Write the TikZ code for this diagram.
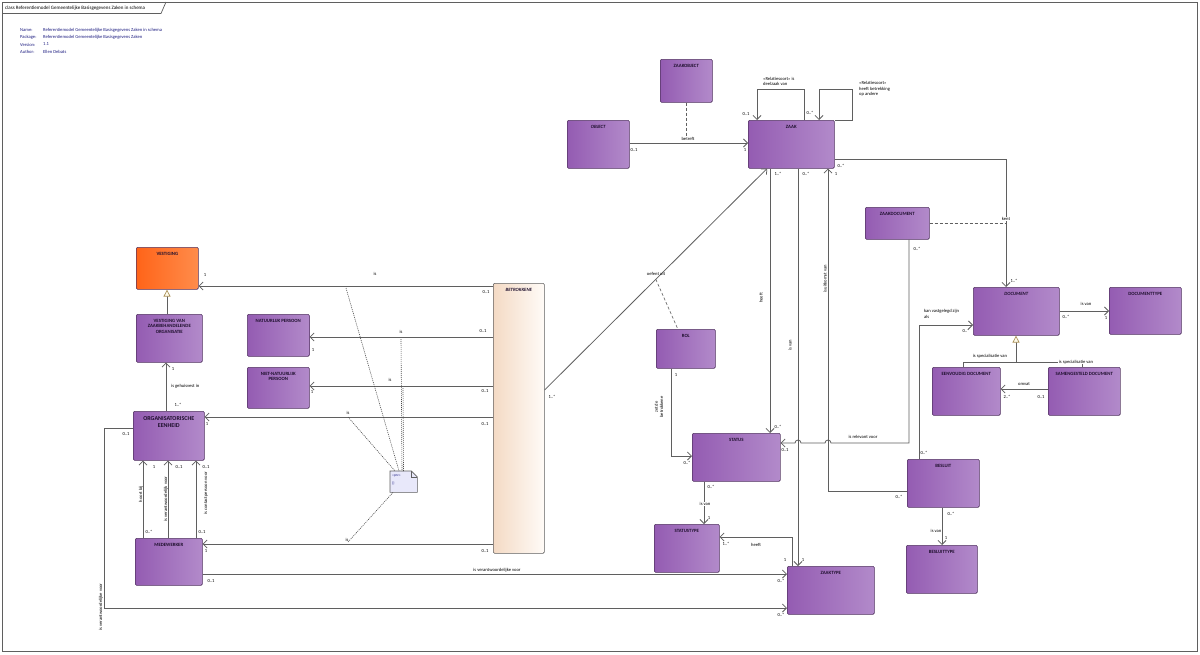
\documentclass[tikz,border=0pt]{standalone}
\usepackage{fontspec}
\setmainfont{Carlito}
\usetikzlibrary{arrows.meta,calc}
\definecolor{purpL}{RGB}{148,92,178}
\definecolor{purpR}{RGB}{178,138,202}
\definecolor{boxborder}{RGB}{80,50,95}
\definecolor{orL}{RGB}{255,100,25}
\definecolor{orR}{RGB}{255,140,75}
\definecolor{peachL}{RGB}{244,218,196}
\definecolor{peachR}{RGB}{255,251,247}
\definecolor{linec}{RGB}{95,95,95}
\definecolor{titlec}{RGB}{30,15,45}
\definecolor{infoc}{RGB}{30,30,130}
\definecolor{notefill}{RGB}{232,232,250}
\definecolor{tanc}{RGB}{170,145,90}
\definecolor{creamc}{RGB}{255,252,235}
\tikzset{
  every node/.style={inner sep=0pt},
  umlbox/.style={draw=boxborder, line width=0.6pt, rounded corners=1.2pt, left color=purpL, right color=purpR, anchor=north west},
  orbox/.style={umlbox, left color=orL, right color=orR},
  betrbox/.style={umlbox, left color=peachL, right color=peachR, draw=linec},
  boxtitle/.style={anchor=north, yshift=-5pt, align=center, text=titlec, font=\fontsize{4.8}{5.6}\selectfont\bfseries},
  bigtitle/.style={boxtitle, font=\fontsize{6}{7}\selectfont\bfseries},
  ittitle/.style={boxtitle, font=\fontsize{4.8}{5.6}\selectfont\bfseries\itshape},
  assoc/.style={draw=linec, line width=0.8pt, -{Straight Barb[length=4pt,width=8pt,line width=0.75pt]}},
  plain/.style={draw=linec, line width=0.8pt},
  gen/.style={draw=linec, line width=0.8pt, -{Triangle[open,length=7pt,width=7pt,color=tanc,fill=creamc,line width=0.7pt]}},
  dashc/.style={draw=linec, line width=0.6pt, dash pattern=on 3pt off 2pt},
  dotc/.style={draw=linec!80!black, line width=0.6pt, dash pattern=on 1pt off 1pt},
  lbl/.style={font=\fontsize{4.6}{5.3}\selectfont, text=black},
  lblw/.style={lbl, fill=white, inner sep=0.5pt},
  rlbl/.style={lbl, rotate=90, fill=white, inner sep=0.5pt},
  infotxt/.style={font=\fontsize{4.6}{5.4}\selectfont, text=infoc, anchor=west},
}
\newcommand{\mkbox}[7]{%
  \node[#1, minimum width={(#5-#3)*1pt}, minimum height={(#6-#4)*1pt}] (#2) at (#3,#4) {};%
}
\begin{document}
\begin{tikzpicture}[x=1pt,y=-1pt]
\useasboundingbox (0,0) rectangle (1200,654);
\fill[white] (0,0) rectangle (1200,654);
% frame
\draw[linec, line width=0.7pt] (2,2) rectangle (1197,651);
\draw[linec, line width=0.7pt] (2,13.5) -- (161,13.5) -- (166,2);
\node[font=\fontsize{5}{6}\selectfont, anchor=west] (hdr) at (5,8) {class Referentiemodel Gemeentelijke Basisgegevens Zaken in schema};
\node[infotxt] (in1) at (20,30.5) {Name:};
\node[infotxt] (in2) at (20,37.5) {Package:};
\node[infotxt] (in3) at (20,44.5) {Version:};
\node[infotxt] (in4) at (20,51.5) {Author:};
\node[infotxt] (iv1) at (43,30.5) {Referentiemodel Gemeentelijke Basisgegevens Zaken in schema};
\node[infotxt] (iv2) at (43,37.5) {Referentiemodel Gemeentelijke Basisgegevens Zaken};
\node[infotxt] (iv3) at (43,44.5) {1.1};
\node[infotxt] (iv4) at (43,51.5) {Ellen Debats};

% boxes
\mkbox{orbox}{vest}{136}{247}{198}{289}{}
\mkbox{umlbox}{vvzo}{136}{314}{202}{362}{}
\mkbox{umlbox}{np}{247}{314}{309}{356}{}
\mkbox{umlbox}{nnp}{247}{367}{309}{408}{}
\mkbox{umlbox}{oe}{133}{411}{204}{460}{}
\mkbox{umlbox}{mdw}{135}{538}{202}{585}{}
\mkbox{betrbox}{betr}{493}{283}{544}{553}{}
\mkbox{umlbox}{zob}{660}{59}{712}{102}{}
\mkbox{umlbox}{obj}{567}{120}{629}{168}{}
\mkbox{umlbox}{zaak}{748}{120}{834}{168}{}
\mkbox{umlbox}{zdoc}{865}{207}{929}{239}{}
\mkbox{umlbox}{doc}{973}{287}{1059}{335}{}
\mkbox{umlbox}{doct}{1109}{287}{1181}{334}{}
\mkbox{umlbox}{evd}{932}{367}{1000}{415}{}
\mkbox{umlbox}{smd}{1048}{367}{1120}{415}{}
\mkbox{umlbox}{rol}{656}{329}{715}{368}{}
\mkbox{umlbox}{stat}{692}{433}{780}{481}{}
\mkbox{umlbox}{stt}{654}{524}{719}{572}{}
\mkbox{umlbox}{zt}{787}{566}{874}{614}{}
\mkbox{umlbox}{bes}{907}{459}{979}{507}{}
\mkbox{umlbox}{best}{906}{545}{977}{593}{}

\node[boxtitle] (t-vest) at (vest.north) {VESTIGING};
\node[boxtitle] (t-vvzo) at (vvzo.north) {VESTIGING VAN\\ZAAKBEHANDELENDE\\ORGANISATIE};
\node[boxtitle] (t-np) at (np.north) {NATUURLIJK PERSOON};
\node[boxtitle] (t-nnp) at (nnp.north) {NIET-NATUURLIJK\\PERSOON};
\node[bigtitle] (t-oe) at (oe.north) {ORGANISATORISCHE\\EENHEID};
\node[boxtitle] (t-mdw) at (mdw.north) {MEDEWERKER};
\node[ittitle] (t-betr) at (betr.north) {BETROKKENE};
\node[boxtitle] (t-zob) at (zob.north) {ZAAKOBJECT};
\node[ittitle] (t-obj) at (obj.north) {OBJECT};
\node[boxtitle] (t-zaak) at (zaak.north) {ZAAK};
\node[boxtitle] (t-zdoc) at (zdoc.north) {ZAAKDOCUMENT};
\node[ittitle] (t-doc) at (doc.north) {DOCUMENT};
\node[boxtitle] (t-doct) at (doct.north) {DOCUMENTTYPE};
\node[boxtitle] (t-evd) at (evd.north) {EENVOUDIG DOCUMENT};
\node[boxtitle] (t-smd) at (smd.north) {SAMENGESTELD DOCUMENT};
\node[boxtitle] (t-rol) at (rol.north) {ROL};
\node[boxtitle] (t-stat) at (stat.north) {STATUS};
\node[boxtitle] (t-stt) at (stt.north) {STATUSTYPE};
\node[boxtitle] (t-zt) at (zt.north) {ZAAKTYPE};
\node[boxtitle] (t-bes) at (bes.north) {BESLUIT};
\node[boxtitle] (t-best) at (best.north) {BESLUITTYPE};

% note
\node[minimum width=27pt, minimum height=21pt, anchor=north west] (note) at (390,471) {};
\draw[draw=linec, fill=notefill, line width=0.6pt] (note.north west) -- ([xshift=-6pt]note.north east) -- ([yshift=-6pt]note.north east) -- (note.south east) -- (note.south west) -- cycle;
\draw[draw=linec, line width=0.5pt] ([xshift=-6pt]note.north east) -- ([xshift=-6pt,yshift=-6pt]note.north east) -- ([yshift=-6pt]note.north east);
\node[font=\fontsize{3.6}{4}\selectfont, text=infoc, anchor=west] (nt1) at (392,476) {«prv»};
\node[font=\fontsize{3.6}{4}\selectfont, text=infoc, anchor=west] (nt2) at (392,483) {\{\}};

% BETROKKENE associations
\draw[assoc] (betr.west |- 0,286) -- (vest.east |- 0,286);
\node[lbl] at (375,274) {is};
\node[lbl] at (205,275) {1};
\node[lbl] at (486,292) {0..1};
\draw[assoc] (betr.west |- 0,337) -- (np.east |- 0,337);
\node[lbl] at (401,332) {is};
\node[lbl] at (483,331) {0..1};
\node[lbl] at (313,350) {1};
\draw[assoc] (betr.west |- 0,386) -- (nnp.east |- 0,386);
\node[lbl] at (390,380) {is};
\node[lbl] at (485,391) {0..1};
\node[lbl] at (312,392) {1};
\draw[assoc] (betr.west |- 0,417) -- (oe.east |- 0,417);
\node[lbl] at (348,413) {is};
\node[lbl] at (485,424) {0..1};
\node[lbl] at (207,424) {1};
\draw[assoc] (betr.west |- 0,544) -- (mdw.east |- 0,544);
\node[lbl] at (347,540) {is};
\node[lbl] at (485,551) {0..1};
\node[lbl] at (206,551) {1};

% note links
\coordinate (nl1) at (346,288);
\coordinate (nl2) at (401,339);
\coordinate (nl3) at (403,388);
\coordinate (nl4) at (348,417);
\coordinate (nl5) at (348,542);
\draw[dotc] (nl1) -- ([xshift=9pt]note.north west);
\draw[dotc] (nl2) -- ([xshift=12pt]note.north west);
\draw[dotc] (nl3) -- ([xshift=13.5pt]note.north west);
\draw[dotc] (nl4) -- ([xshift=5pt]note.north west);
\draw[dotc] (nl5) -- ([xshift=3pt]note.south west);

% BETROKKENE -> ZAAK
\coordinate (bz1) at (betr.east |- 0,390);
\coordinate (bz2) at ([xshift=19pt]zaak.south west);
\draw[assoc] (bz1) -- (bz2);
\coordinate (bzm) at ($(bz1)!0.5!(bz2)$);
\draw[dashc] (bzm) -- ([xshift=-8pt]rol.north);
\node[lbl] at (656,274) {oefent uit};
\node[lbl] at (552,397) {1..*};

% OBJECT -> ZAAK
\draw[assoc] (obj.east |- 0,143) -- (zaak.west |- 0,143);
\draw[dashc] (zob.south) -- (zob.south |- 0,140);
\node[lbl, fill=white, inner sep=0.5pt] at (688,139) {betreft};
\node[lbl] at (634,150) {0..1};
\node[lbl] at (745,150) {1};

% ZAAK self loops
\draw[assoc] (zaak.north -| 804,0) -- (804,89) -- (757,89) -- (zaak.north -| 757,0);
\node[lbl, anchor=west, align=left] at (763,81.5) {«Relatiesoort» is\\deelzaak van};
\node[lbl] at (746,114) {0..1};
\draw[assoc] (zaak.north east) -- (852,120) -- (852,89) -- (819,89) -- (zaak.north -| 819,0);
\node[lbl, anchor=west, align=left] at (859,89) {«Relatiesoort»\\heeft betrekking\\op andere};
\node[lbl] at (810,113) {0..*};

% ZAAK -> DOCUMENT kent
\draw[assoc] (zaak.east |- 0,159) -- (1006,159) -- (doc.north -| 1006,0);
\draw[dashc] (zdoc.east |- 0,223) -- (1006,223);
\node[lblw] at (1006,219) {kent};
\node[lbl] at (841,166) {0..*};
\node[lbl] at (1014,281) {1..*};

% ZAAK -> STATUS heeft
\draw[assoc] (zaak.south -| 770,0) -- (stat.north -| 770,0);
\node[rlbl] at (761,298) {heeft};
\node[lbl] at (778,174) {1..*};
\node[lbl] at (778,427) {0..*};

% ZAAK -> ZAAKTYPE is van
\draw[assoc] (zaak.south -| 798,0) -- (zt.north -| 798,0);
\node[rlbl] at (790,345) {is van};
\node[lbl] at (806,174) {0..*};
\node[lbl] at (803,560) {1};

% BESLUIT -> ZAAK is uitkomst van
\draw[assoc] (bes.west |- 0,491) -- (828,491) -- (zaak.south -| 828,0);
\node[rlbl] at (825,279) {is uitkomst van};
\node[lbl] at (836,174) {1};
\node[lbl] at (899,497) {0..*};

% ZAAKDOCUMENT -> STATUS is relevant voor
\draw[assoc] (zdoc.south -| 909,0) -- (909,443) -- (831,443)
   arc[start angle=0, end angle=180, radius=3pt] -- (801,443)
   arc[start angle=0, end angle=180, radius=3pt] -- (stat.east |- 0,443);
\node[lbl] at (863,437) {is relevant voor};
\node[lbl] at (917,249) {0..*};
\node[lbl] at (785,450) {0..1};

% BESLUIT -> DOCUMENT kan vastgelegd zijn als
\draw[assoc] (bes.north -| 919,0) -- (919,325) -- (doc.west |- 0,325);
\node[lbl, anchor=west, align=left] at (924,314) {kan vastgelegd zijn\\als};
\node[lbl] at (966,331) {0..*};
\node[lbl] at (924,453) {0..*};

% generalization documents
\draw[plain] (evd.north -| 963,0) -- (963,362) -- (1082,362) -- (smd.north -| 1082,0);
\draw[gen] (1016,362) -- (doc.south -| 1016,0);
\node[lbl] at (990,356) {is specialisatie van};
\node[lblw] at (1076,362) {is specialisatie van};

% omvat
\draw[assoc] (smd.west |- 0,389) -- (evd.east |- 0,389);
\node[lbl] at (1024,384) {omvat};
\node[lbl] at (1007,397) {2..*};
\node[lbl] at (1041,397) {0..1};

% DOCUMENT -> DOCUMENTTYPE
\draw[assoc] (doc.east |- 0,311) -- (doct.west |- 0,311);
\node[lbl] at (1086,304) {is van};
\node[lbl] at (1066,317) {0..*};
\node[lbl] at (1106,318) {1};

% ROL -> STATUS
\draw[assoc] (rol.south -| 671,0) -- (671,456) -- (stat.west |- 0,456);
\node[rlbl, align=center] at (659,407) {zet de\\betrokkene};
\node[lbl] at (676,375) {1};
\node[lbl] at (687,463) {0..*};

% STATUS -> STATUSTYPE
\draw[assoc] (stat.south -| 704,0) -- (stt.north -| 704,0);
\node[lblw] at (705,504) {is van};
\node[lbl] at (711,487) {0..*};
\node[lbl] at (709,518) {1};

% ZAAKTYPE -> STATUSTYPE heeft
\draw[assoc] (zt.north -| 792,0) -- (792,537) -- (stt.east |- 0,537);
\node[lbl] at (756,545) {heeft};
\node[lbl] at (726,544) {1..*};
\node[lbl] at (785,560) {1};

% BESLUIT -> BESLUITTYPE
\draw[assoc] (bes.south -| 942,0) -- (best.north -| 942,0);
\node[lblw] at (936,531) {is van};
\node[lbl] at (951,514) {0..*};
\node[lbl] at (946,538) {1};

% OE -> VvZO
\draw[assoc] (oe.north -| 166,0) -- (vvzo.south -| 166,0);
\node[lbl, anchor=west] at (171,386) {is gehuisvest in};
\node[lbl] at (173,369) {1};
\node[lbl] at (178,405) {1..*};
\draw[gen] (vvzo.north -| 167,0) -- (vest.south -| 167,0);

% MEDEWERKER -> OE
\draw[assoc] (mdw.north -| 143,0) -- (oe.south -| 143,0);
\node[rlbl] at (141,494) {hoort bij};
\node[lbl] at (154,467) {1};
\node[lbl] at (149,532) {0..*};
\draw[assoc] (mdw.north -| 168,0) -- (oe.south -| 168,0);
\node[rlbl] at (166,499) {is verantwoordelijk voor};
\node[lbl] at (179,467) {0..1};
\draw[assoc] (mdw.north -| 196,0) -- (oe.south -| 196,0);
\node[rlbl] at (206,493) {is contactpersoon voor};
\node[lbl] at (206,467) {0..1};
\node[lbl] at (202,532) {0..1};

% MEDEWERKER -> ZAAKTYPE
\draw[assoc] (mdw.east |- 0,574) -- (zt.west |- 0,574);
\node[lbl] at (497,570) {is verantwoordelijke voor};
\node[lbl] at (211,581) {0..1};
\node[lbl] at (781,581) {0..*};

% OE -> ZAAKTYPE
\draw[assoc] (oe.west |- 0,428) -- (104,428) -- (104,608) -- (zt.west |- 0,608);
\node[rlbl] at (101,607) {is verantwoordelijke voor};
\node[lbl] at (126,434) {0..1};
\node[lbl] at (781,615) {0..*};
\end{tikzpicture}
\end{document}
